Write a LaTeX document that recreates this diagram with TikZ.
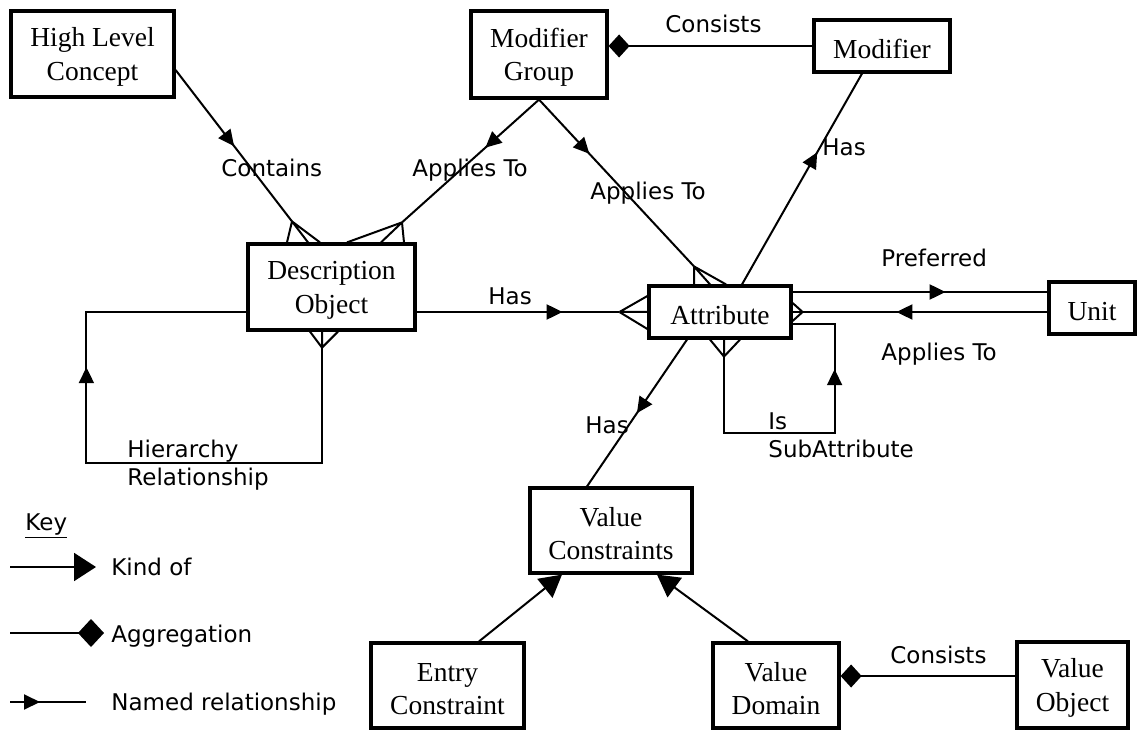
\documentclass[tikz,border=0pt]{standalone}
\usepackage{fontspec}
\setmainfont{Liberation Serif}
\newfontfamily\labelfont{DejaVu Sans}
\usetikzlibrary{arrows.meta,decorations.markings,calc}
% invisible strut that lowers the first line of an entity label a little
\newcommand\entrytop{\rule{0pt}{12.5pt}}

\begin{document}
\begin{tikzpicture}[x=0.5pt,y=-0.5pt,
  entity/.style={draw, line width=1.6pt, inner sep=0pt, align=center,
    font=\fontsize{13.75}{16.7}\selectfont},
  link/.style={line width=1pt},
  lbl/.style={font=\labelfont\fontsize{11.5}{14}\selectfont, inner sep=0pt},
  relarrow/.style={postaction={decorate}, decoration={markings,
    mark=at position #1 with {\arrow{Triangle[length=8pt,width=7.5pt]}}}},
  kindof/.style={arrows={-Triangle[length=11pt,width=12pt]}},
  agg/.style={arrows={Diamond[length=10.5pt,width=11.5pt]-}}]

\useasboundingbox (0,0) rectangle (1138,731);

% entities
\node[entity, minimum width=81.5pt, minimum height=43pt] (hlc) at (92.5,54) {\entrytop High Level\\Concept};
\node[entity, minimum width=68pt, minimum height=43.5pt] (mg) at (539,54.5) {\entrytop Modifier\\Group};
\node[entity, minimum width=68pt, minimum height=26pt] (mod) at (882,46) {\entrytop Modifier};
\node[entity, minimum width=83.5pt, minimum height=43pt] (do) at (331.5,287) {\entrytop Description\\Object};
\node[entity, minimum width=71pt, minimum height=26pt] (attr) at (720,312) {\entrytop Attribute};
\node[entity, minimum width=43pt, minimum height=26pt] (unit) at (1092,308) {\entrytop Unit};
\node[entity, minimum width=81pt, minimum height=42.5pt] (vc) at (611,530.5) {\entrytop Value\\Constraints};
\node[entity, minimum width=76.5pt, minimum height=42.5pt] (ec) at (447.5,685.5) {\entrytop Entry\\Constraint};
\node[entity, minimum width=63pt, minimum height=42.5pt] (vd) at (776,685.5) {\entrytop Value\\Domain};
\node[entity, minimum width=55.5pt, minimum height=43pt] (vo) at (1072.5,685) {\entrytop Value\\Object};

% crow's-foot junctions
\coordinate (cf1) at ($(do.north)+(-39.5,-21)$);
\coordinate (cf2) at ($(do.north)+(70.5,-20)$);
\coordinate (cf3) at ($(attr.north)+(-26,-18)$);
\coordinate (cf4) at ($(attr.west)+(-28,0)$);
\coordinate (cf5) at ($(do.south)+(-9.5,16)$);
\coordinate (cf6) at ($(attr.east)+(10,0)$);
\coordinate (cf7) at ($(attr.south)+(4,17)$);
\coordinate (hloop) at ($(do.west)+(-160,25)$);

% High Level Concept contains Description Object
\draw[link, relarrow=48pt] ($(hlc.east)+(0,16)$) -- (cf1);
\draw[link] (cf1) -- ($(do.north)+(-44.5,0)$) (cf1) -- ($(do.north)+(-23.5,0)$) (cf1) -- ($(do.north)+(-11.5,0)$);
\node[lbl, anchor=base west] at (221,177) {Contains};

% Modifier Group applies to Description Object
\draw[link, relarrow=36pt] (mg.south) -- (cf2);
\draw[link] (cf2) -- ($(do.north)+(72.5,0)$) (cf2) -- ($(do.north)+(49.5,0)$) (cf2) -- ($(do.north)+(15.5,0)$);
\node[lbl, anchor=base west] at (412,177) {Applies To};

% Modifier Group applies to Attribute
\draw[link, relarrow=37pt] (mg.south) -- (cf3);
\draw[link] (cf3) -- ($(attr.north)+(-26,0)$) (cf3) -- ($(attr.north)+(-10,0)$) (cf3) -- ($(attr.north)+(6,0)$);
\node[lbl, anchor=base west] at (590,200) {Applies To};

% Modifier Group consists of Modifier
\draw[link, agg] (mg.east |- mod.west) -- (mod.west);
\node[lbl, anchor=base west] at (665,33) {Consists};

% Attribute has Modifier
\draw[link, relarrow=76pt] ($(attr.north)+(22,0)$) -- ($(mod.south)+(-20,0)$);
\node[lbl, anchor=base west] at (822,156) {Has};

% Description Object has Attribute
\draw[link, relarrow=73pt] ($(do.east)+(0,25)$) -- (cf4);
\draw[link] (cf4) -- ($(attr.west)+(0,-16)$) (cf4) -- (attr.west) (cf4) -- ($(attr.west)+(0,17)$);
\node[lbl, anchor=base west] at (488,305) {Has};

% hierarchy loop on Description Object
\draw[link, relarrow=223pt] (cf5) -- ++(0,115) -| (hloop) -- ($(do.west)+(0,25)$);
\draw[link] (cf5) -- ($(do.south)+(-21.5,0)$) (cf5) -- ($(do.south)+(-9.5,0)$) (cf5) -- ($(do.south)+(6.5,0)$);
\node[lbl, anchor=north west, align=left] at (127,440) {Hierarchy\\Relationship};

% Attribute and Unit
\draw[link, relarrow=76.5pt] ($(attr.east)+(0,-20)$) -- ($(unit.west)+(0,-16)$);
\node[lbl, anchor=base west] at (881,267) {Preferred};
\draw[link, relarrow=75.5pt] ($(unit.west)+(0,4)$) -- (cf6) -- (attr.east);
\draw[link] (cf6) -- ($(attr.east)+(0,-9)$) (cf6) -- ($(attr.east)+(0,9)$);
\node[lbl, anchor=base west] at (881,361) {Applies To};

% sub-attribute loop
\draw[link, relarrow=125pt] (cf7) -- ++(0,76) -| ($(attr.east)+(42,12)$) -- ($(attr.east)+(0,12)$);
\draw[link] (cf7) -- ($(attr.south)+(-10,0)$) (cf7) -- ($(attr.south)+(4,0)$) (cf7) -- ($(attr.south)+(20,0)$);
\node[lbl, anchor=north west, align=left] at (768,412) {Is\\SubAttribute};

% Attribute has Value Constraints
\draw[link, relarrow=44.5pt] ($(attr.south)+(-33,0)$) -- ($(vc.north)+(-24,0)$);
\node[lbl, anchor=base west] at (585,433) {Has};

% kinds of Value Constraints
\draw[link, kindof] ($(ec.north)+(31.5,0)$) -- ($(vc.south)+(-49,0)$);
\draw[link, kindof] ($(vd.north)+(-28,0)$) -- ($(vc.south)+(46,0)$);

% Value Domain consists of Value Object
\draw[link, agg] ($(vd.east)+(0,-9.5)$) -- ($(vo.west)+(0,-9)$);
\node[lbl, anchor=base west] at (890,663) {Consists};

% key
\node[lbl, anchor=base west] (key) at (25,530) {\underline{Key}};
\coordinate (k1s) at (10,567); \coordinate (k1e) at (96,567);
\draw[link, arrows={-Triangle[length=11pt,width=14pt]}] (k1s) -- (k1e);
\node[lbl, anchor=base west] at (111,575) {Kind of};
\coordinate (k2s) at (10,633); \coordinate (k2e) at (104,633);
\draw[link, arrows={-Diamond[length=13pt,width=14pt]}] (k2s) -- (k2e);
\node[lbl, anchor=base west] at (111,642) {Aggregation};
\coordinate (k3s) at (10,702); \coordinate (k3e) at (86,702);
\draw[link, relarrow=15pt] (k3s) -- (k3e);
\node[lbl, anchor=base west] at (111,710) {Named relationship};
\end{tikzpicture}
\end{document}
